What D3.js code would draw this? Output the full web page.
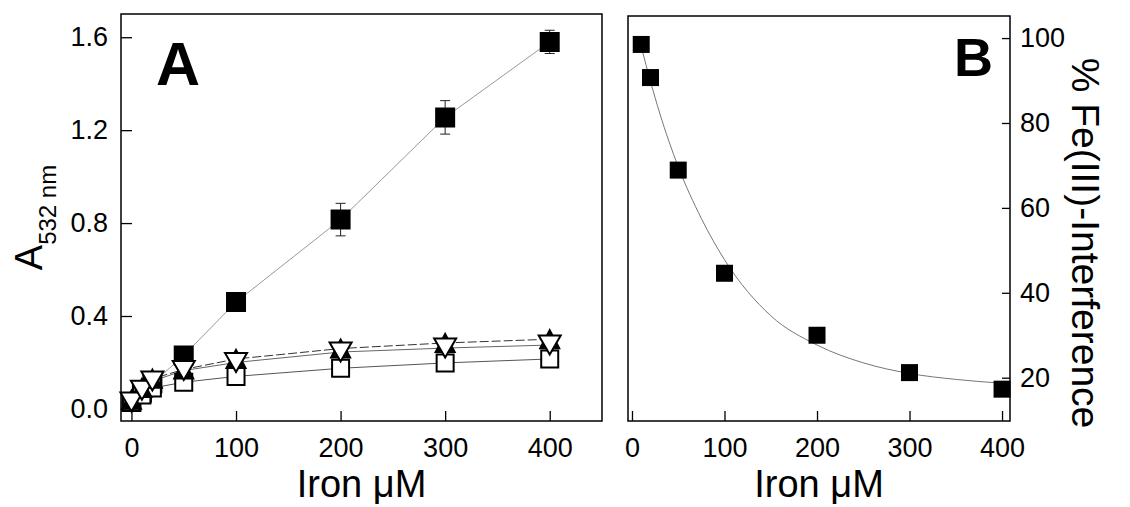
<!DOCTYPE html>
<html>
<head>
<meta charset="utf-8">
<script src="https://cdn.jsdelivr.net/npm/d3@7"></script>
<style>
  html, body { margin: 0; padding: 0; background: #fff; }
  svg text { font-family: "Liberation Sans", Arial, sans-serif; fill: #000; }
</style>
</head>
<body>
<svg id="root" width="1130" height="507"></svg>
<script>
// panel A data
const ironA = [0, 10, 20, 50, 100, 200, 300, 400];
const filledSquare = [0.03, 0.07, 0.11, 0.23, 0.46, 0.815, 1.255, 1.58];
const filledSquareErr = [0.005, 0.005, 0.01, 0.01, 0.015, 0.07, 0.072, 0.05];
const openSquare = [0.03, 0.06, 0.09, 0.115, 0.14, 0.175, 0.198, 0.215];
const openSquareErr = [0.01, 0.01, 0.01, 0.01, 0.012, 0.012, 0.012, 0.012];
const filledTriangle = [0.04, 0.09, 0.13, 0.17, 0.215, 0.26, 0.284, 0.30];
const filledTriangleErr = [0.01, 0.01, 0.01, 0.012, 0.012, 0.012, 0.012, 0.012];
const openTriangle = [0.03, 0.08, 0.12, 0.165, 0.2, 0.245, 0.262, 0.275];
const openTriangleErr = [0.01, 0.01, 0.01, 0.01, 0.012, 0.012, 0.012, 0.012];
const xTicksA = [0, 100, 200, 300, 400];
const yTicksA = [0.0, 0.4, 0.8, 1.2, 1.6];

// panel B data
const ironB = [10, 20, 50, 100, 200, 300, 400];
const interference = [98.5, 90.7, 68.9, 44.6, 30.0, 21.2, 17.3];
const fitX = [10, 20, 30, 50, 75, 100, 150, 200, 250, 300, 350, 400];
const fitY = [98, 89.8, 82.3, 69.7, 57.5, 47.8, 34.6, 27.7, 23.5, 21.0, 19.6, 18.7];
const xTicksB = [0, 100, 200, 300, 400];
const yTicksB = [20, 40, 60, 80, 100];

const svg = d3.select("#root");

function zip(xs, ys, es) {
  return xs.map((x, i) => ({ x: x, y: ys[i], e: es ? es[i] : 0 }));
}

function upTri(w, h) {
  return `M0,${-h / 2}L${w / 2},${h / 2}L${-w / 2},${h / 2}Z`;
}
function downTri(w, h) {
  return `M0,${h / 2}L${w / 2},${-h / 2}L${-w / 2},${-h / 2}Z`;
}
function sq(s) {
  return `M${-s / 2},${-s / 2}h${s}v${s}h${-s}Z`;
}

function styleAxis(g, size) {
  g.select(".domain").remove();
  g.selectAll(".tick line").attr("stroke", "#000").attr("stroke-width", 1.3);
  g.selectAll(".tick text").style("font-size", size + "px");
}

// ---------- Panel A ----------
const A = { left: 121, right: 602, top: 14, bottom: 421 };
const xA = d3.scaleLinear().domain([-10, 450]).range([A.left, A.right]);
const yA = d3.scaleLinear().domain([-0.052, 1.7]).range([A.bottom, A.top]);

const gA = svg.append("g");

gA.append("g")
  .attr("transform", `translate(0,${A.bottom})`)
  .call(d3.axisBottom(xA).tickValues(xTicksA).tickSize(-10).tickPadding(17).tickFormat(d3.format("d")))
  .call(g => styleAxis(g, 27));

gA.append("g")
  .attr("transform", `translate(${A.left},0)`)
  .call(d3.axisLeft(yA).tickValues(yTicksA).tickSize(-11).tickPadding(13).tickFormat(d3.format(".1f")))
  .call(g => styleAxis(g, 27));

const lineA = d3.line().x(d => xA(d.x)).y(d => yA(d.y));

const seriesA = [
  { data: zip(ironA, filledSquare, filledSquareErr), stroke: "#999", dash: null, shape: "sq", fill: "#000", size: 18 },
  { data: zip(ironA, openSquare, openSquareErr), stroke: "#555", dash: null, shape: "sq", fill: "#fff", size: 17 },
  { data: zip(ironA, filledTriangle, filledTriangleErr), stroke: "#333", dash: "9,3", shape: "up", fill: "#000", size: 19 },
  { data: zip(ironA, openTriangle, openTriangleErr), stroke: "#666", dash: null, shape: "down", fill: "#fff", size: 22 }
];

// connecting lines
seriesA.forEach(s => {
  gA.append("path")
    .datum(s.data)
    .attr("fill", "none")
    .attr("stroke", s.stroke)
    .attr("stroke-width", 1)
    .attr("stroke-dasharray", s.dash)
    .attr("d", lineA);
});

// error bars + markers
seriesA.forEach(s => {
  const g = gA.append("g");
  const err = g.append("g").attr("stroke", s.fill === "#000" ? "#222" : "#777").attr("stroke-width", 1);
  const drawErr = () => {
    s.data.forEach(d => {
      const cx = xA(d.x);
      err.append("line").attr("x1", cx).attr("x2", cx).attr("y1", yA(d.y - d.e)).attr("y2", yA(d.y + d.e));
      err.append("line").attr("x1", cx - 5).attr("x2", cx + 5).attr("y1", yA(d.y + d.e)).attr("y2", yA(d.y + d.e));
      err.append("line").attr("x1", cx - 5).attr("x2", cx + 5).attr("y1", yA(d.y - d.e)).attr("y2", yA(d.y - d.e));
    });
  };
  const marks = g.selectAll(".mk")
    .data(s.data)
    .enter().append("path")
    .attr("class", "mk")
    .attr("transform", d => `translate(${xA(d.x)},${yA(d.y)})`)
    .attr("d", () => s.shape === "sq" ? sq(s.size) : s.shape === "up" ? upTri(s.size, s.size - 1) : downTri(s.size, s.size - 3))
    .attr("fill", s.fill)
    .attr("stroke", "#000")
    .attr("stroke-width", 2);
  if (s.fill === "#000") {
    err.lower();
  }
  drawErr();
});

gA.append("rect")
  .attr("x", A.left).attr("y", A.top)
  .attr("width", A.right - A.left).attr("height", A.bottom - A.top)
  .attr("fill", "none").attr("stroke", "#000").attr("stroke-width", 1.5);

gA.append("text")
  .attr("x", 156).attr("y", 85)
  .style("font-size", "61px").style("font-weight", "bold")
  .text("A");

gA.append("text")
  .attr("x", (A.left + A.right) / 2).attr("y", 497)
  .attr("text-anchor", "middle")
  .style("font-size", "38px")
  .text("Iron \u03bcM");

const yTitleA = gA.append("text")
  .attr("transform", `translate(42,${(A.top + A.bottom) / 2}) rotate(-90)`)
  .attr("text-anchor", "middle")
  .style("font-size", "38px");
yTitleA.append("tspan").text("A");
yTitleA.append("tspan").attr("dy", 14).style("font-size", "24px").text("532 nm");

// ---------- Panel B ----------
const B = { left: 628, right: 1010, top: 16, bottom: 421 };
const xB = d3.scaleLinear().domain([-4.3, 408.6]).range([B.left, B.right]);
const yB = d3.scaleLinear().domain([9.8, 105.2]).range([B.bottom, B.top]);

const gB = svg.append("g");

gB.append("g")
  .attr("transform", `translate(0,${B.bottom})`)
  .call(d3.axisBottom(xB).tickValues(xTicksB).tickSize(-10).tickPadding(17).tickFormat(d3.format("d")))
  .call(g => styleAxis(g, 27));

gB.append("g")
  .attr("transform", `translate(${B.right},0)`)
  .call(d3.axisRight(yB).tickValues(yTicksB).tickSize(-8).tickPadding(10).tickFormat(d3.format("d")))
  .call(g => styleAxis(g, 27));

gB.append("path")
  .datum(zip(fitX, fitY))
  .attr("fill", "none")
  .attr("stroke", "#777")
  .attr("stroke-width", 1)
  .attr("d", d3.line().x(d => xB(d.x)).y(d => yB(d.y)).curve(d3.curveMonotoneX));

gB.selectAll(".mk")
  .data(zip(ironB, interference))
  .enter().append("path")
  .attr("class", "mk")
  .attr("transform", d => `translate(${xB(d.x)},${yB(d.y)})`)
  .attr("d", sq(17))
  .attr("fill", "#000");

gB.append("rect")
  .attr("x", B.left).attr("y", B.top)
  .attr("width", B.right - B.left).attr("height", B.bottom - B.top)
  .attr("fill", "none").attr("stroke", "#000").attr("stroke-width", 1.5);

gB.append("text")
  .attr("x", 993).attr("y", 76)
  .attr("text-anchor", "end")
  .style("font-size", "54px").style("font-weight", "bold")
  .text("B");

gB.append("text")
  .attr("x", (B.left + B.right) / 2).attr("y", 497)
  .attr("text-anchor", "middle")
  .style("font-size", "38px")
  .text("Iron \u03bcM");

gB.append("text")
  .attr("transform", `translate(1072,243) rotate(90)`)
  .attr("text-anchor", "middle")
  .style("font-size", "39px")
  .text("% Fe(III)-Interference");
</script>
</body>
</html>
